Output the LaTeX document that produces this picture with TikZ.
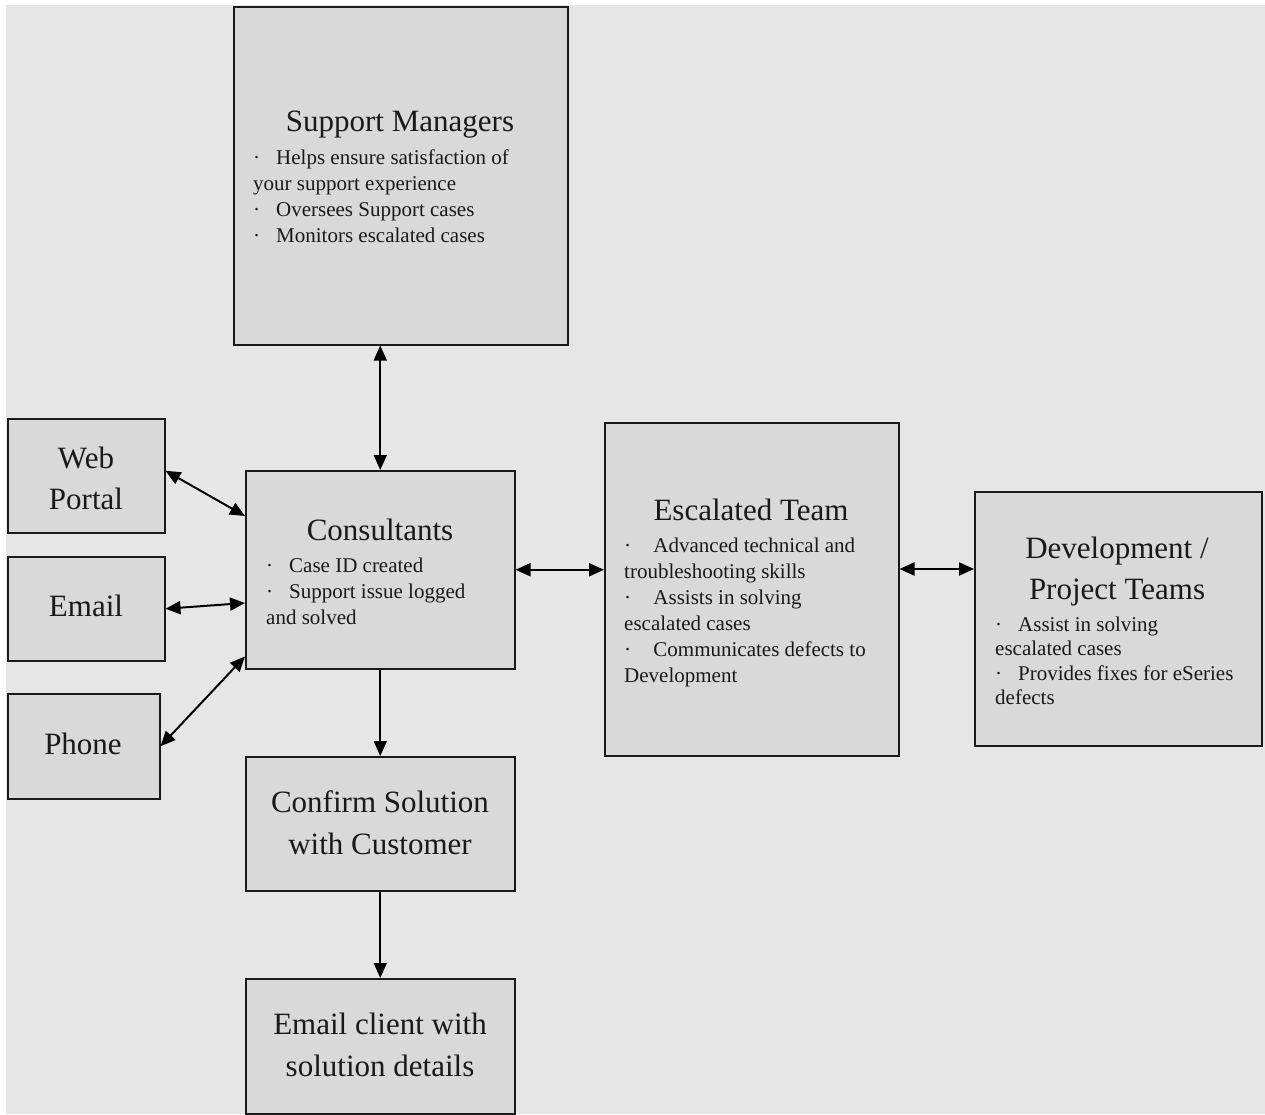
\documentclass[tikz,border=0pt]{standalone}
\usepackage{fontspec}
\setmainfont{Liberation Serif}
\usetikzlibrary{arrows.meta,calc}
\definecolor{bg}{HTML}{E6E6E6}
\definecolor{boxfill}{HTML}{D9D9D9}
\definecolor{edge}{HTML}{1A1A1A}
\newcommand{\bul}[1][23pt]{\makebox[#1][l]{\textperiodcentered}}
\begin{document}
\begin{tikzpicture}[x=1pt,y=-1pt,
 box/.style={draw=edge,fill=boxfill,line width=1.5pt,inner sep=0,anchor=north west},
 ttl/.style={font=\fontsize{31}{41}\selectfont,inner sep=0,anchor=base,text=black!90},
 bod/.style={font=\fontsize{21}{26}\selectfont,inner sep=0,anchor=base west,text=black!90},
 tip/.style={Triangle[length=15pt,width=13pt]},
 link/.style={line width=2pt,{Triangle[length=15pt,width=13pt]}-{Triangle[length=15pt,width=13pt]}},
 flow/.style={line width=1.6pt,-{Triangle[length=15pt,width=13pt]}}]
\useasboundingbox (0,0) rectangle (1265,1114);
\fill[bg] (6,5) rectangle (1265,1114);

% boxes
\node[box,minimum width=334pt,minimum height=338pt] (sm) at (233,6) {};
\node[box,minimum width=157pt,minimum height=114pt] (web) at (7,418) {};
\node[box,minimum width=157pt,minimum height=104pt] (email) at (7,556) {};
\node[box,minimum width=152pt,minimum height=105pt] (phone) at (7,693) {};
\node[box,minimum width=269pt,minimum height=198pt] (cons) at (245,470) {};
\node[box,minimum width=269pt,minimum height=134pt] (conf) at (245,756) {};
\node[box,minimum width=269pt,minimum height=135pt] (ec) at (245,978) {};
\node[box,minimum width=294pt,minimum height=333pt] (esc) at (604,422) {};
\node[box,minimum width=287pt,minimum height=254pt] (dev) at (974,491) {};

% Support Managers
\node[ttl] (smt) at (400,131) {Support Managers};
\node[bod] (sm1) at (253,164) {\bul Helps ensure satisfaction of};
\node[bod] (sm2) at (253,190) {your support experience};
\node[bod] (sm3) at (253,216) {\bul Oversees Support cases};
\node[bod] (sm4) at (253,242) {\bul Monitors escalated cases};

% simple boxes
\node[ttl] (webt1) at (86,468) {Web};
\node[ttl] (webt2) at (86,509) {Portal};
\node[ttl] (emailt) at (86,616) {Email};
\node[ttl] (phonet) at (83,754) {Phone};
\node[ttl] (conft1) at (380,812) {Confirm Solution};
\node[ttl] (conft2) at (380,854) {with Customer};
\node[ttl] (ect1) at (380,1034) {Email client with};
\node[ttl] (ect2) at (380,1076) {solution details};

% Consultants
\node[ttl] (const) at (380,540) {Consultants};
\node[bod] (cons1) at (266,572) {\bul Case ID created};
\node[bod] (cons2) at (266,598) {\bul Support issue logged};
\node[bod] (cons3) at (266,624) {and solved};

% Escalated Team
\node[ttl] (esct) at (751,520) {Escalated Team};
\node[bod] (esc1) at (624,552) {\bul[24pt] Advanced technical and};
\node[bod] (esc2) at (624,578) {troubleshooting skills};
\node[bod] (esc3) at (624,604) {\bul[24pt] Assists in solving};
\node[bod] (esc4) at (624,630) {escalated cases};
\node[bod] (esc5) at (624,656) {\bul[24pt] Communicates defects to};
\node[bod] (esc6) at (624,682) {Development};

% Development
\node[ttl] (devt1) at (1117,558) {Development /};
\node[ttl] (devt2) at (1117,599) {Project Teams};
\node[bod] (dev1) at (995,631) {\bul Assist in solving};
\node[bod] (dev2) at (995,655) {escalated cases};
\node[bod] (dev3) at (995,680) {\bul Provides fixes for eSeries};
\node[bod] (dev4) at (995,704) {defects};

% connectors
\coordinate (smb) at (cons.north |- sm.south);
\draw[link,line width=1.6pt] (smb) -- (cons.north);
\coordinate (webe) at ($(web.east)+(0,-5)$);
\coordinate (consw1) at ($(cons.north west)+(0,46)$);
\draw[link] (webe) -- (consw1);
\coordinate (consw2) at ($(cons.north west)+(0,133)$);
\draw[link] (email.east) -- (consw2);
\coordinate (consw3) at ($(cons.south west)+(0,-13)$);
\draw[link] (phone.east) -- (consw3);
\coordinate (escw) at (esc.west |- cons.east);
\draw[link] (cons.east) -- (escw);
\coordinate (esce) at ($(esc.north east)+(0,147)$);
\coordinate (devw) at (dev.west |- esce);
\draw[link] (esce) -- (devw);
\draw[flow] (cons.south) -- (conf.north);
\draw[flow] (conf.south) -- (ec.north);
\end{tikzpicture}
\end{document}
